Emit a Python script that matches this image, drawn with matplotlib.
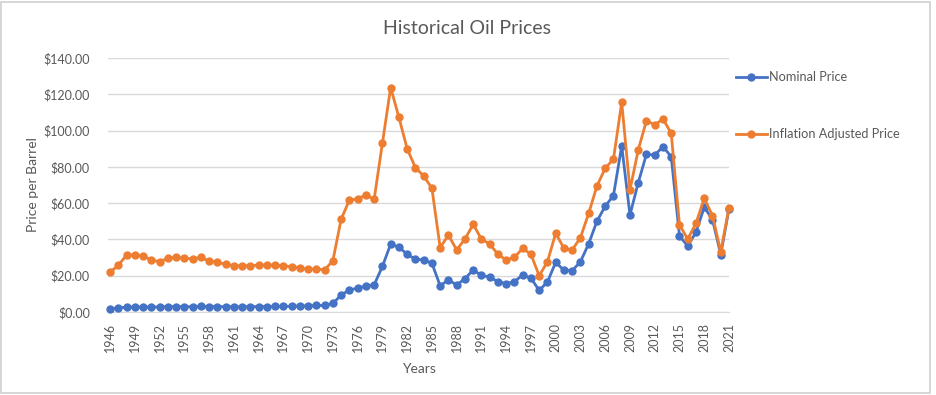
import matplotlib
matplotlib.use("Agg")
import matplotlib.pyplot as plt
from matplotlib.patches import Rectangle

years = list(range(1946, 2022))
nominal = [1.63, 2.16, 2.77, 2.77, 2.77, 2.77, 2.77, 2.92, 2.99, 2.93,
           2.94, 3.14, 3.00, 3.00, 2.91, 2.85, 2.85, 2.91, 3.00, 3.01,
           3.10, 3.12, 3.18, 3.32, 3.39, 3.60, 3.60, 4.75, 9.35, 12.21,
           13.10, 14.40, 14.95, 25.10, 37.42, 35.75, 31.83, 29.08, 28.75, 26.92,
           14.44, 17.75, 14.87, 18.33, 23.19, 20.20, 19.25, 16.75, 15.66, 16.75,
           20.46, 18.64, 11.91, 16.56, 27.39, 23.00, 22.81, 27.69, 37.66, 50.04,
           58.30, 64.20, 91.48, 53.48, 71.21, 87.04, 86.46, 91.17, 85.60, 41.85,
           36.34, 43.97, 57.77, 50.88, 31.68, 57.0]
adjusted = [22.0, 25.7, 31.4, 31.4, 30.9, 28.7, 27.7, 29.6, 30.1, 29.6,
            29.3, 30.1, 28.1, 27.4, 26.3, 25.5, 25.5, 25.5, 25.9, 25.9,
            25.9, 25.5, 25.0, 24.4, 23.5, 23.8, 23.2, 28.3, 51.1, 61.7,
            62.3, 64.5, 62.1, 93.0, 123.7, 107.3, 90.0, 79.6, 75.0, 68.2,
            35.5, 42.4, 34.2, 40.2, 48.3, 40.2, 37.5, 31.8, 28.7, 30.1,
            35.1, 31.8, 20.0, 27.7, 43.4, 35.1, 34.2, 41.0, 54.4, 69.5,
            79.2, 84.3, 115.6, 67.3, 89.3, 105.5, 103.1, 106.4, 98.5, 48.0,
            40.2, 48.9, 62.7, 53.1, 33.2, 57.5]
yticks = [0, 20, 40, 60, 80, 100, 120, 140]
xticks = list(range(1946, 2022, 3))

BLUE = "#4472C4"
ORANGE = "#ED7D31"
GRID = "#D9D9D9"
TXT = "#595959"

plt.rcParams['font.family'] = ['Lato', 'DejaVu Sans']

W, H = 936, 395
fig = plt.figure(figsize=(W / 100, H / 100), dpi=100)
fig.patches.append(Rectangle((1 / W, 2 / H), 929 / W, 391 / H, transform=fig.transFigure,
                             fill=False, edgecolor="#D0D0D0", linewidth=1.2))

ax = fig.add_axes([108 / W, 1 - 312 / H, 621 / W, 254 / H])
ax.plot(years, nominal, color=BLUE, marker='o', markersize=5, linewidth=2.0,
        label="Nominal Price", zorder=3, clip_on=False)
ax.plot(years, adjusted, color=ORANGE, marker='o', markersize=5, linewidth=2.0,
        label="Inflation Adjusted Price", zorder=4, clip_on=False)

ax.set_xlim(1945.75, 2021)
ax.set_ylim(0, 140)
ax.set_yticks(yticks)
ax.set_yticklabels([f"${v:.2f}" for v in yticks])
ax.set_xticks(xticks)
ax.set_xticklabels([str(x) for x in xticks], rotation=90)
ax.grid(axis='y', color=GRID, linewidth=1.0, zorder=0)
ax.set_axisbelow(True)
for s in ['top', 'right', 'left']:
    ax.spines[s].set_visible(False)
ax.spines['bottom'].set_color(GRID)
ax.tick_params(axis='both', length=0, colors=TXT, labelsize=9)
ax.tick_params(axis='y', pad=13)
ax.tick_params(axis='x', pad=8)

ax.set_ylabel("Price per Barrel", color=TXT, fontsize=10)
ax.yaxis.set_label_coords((39 - 108) / 621, 0.5)
ax.set_xlabel("Years", color=TXT, fontsize=10, labelpad=8)
fig.text(467 / W, 1 - 28 / H, "Historical Oil Prices", color=TXT, fontsize=14,
         ha='center', va='center')

leg = fig.legend(loc='upper left', bbox_to_anchor=(731 / W, 1 - 66 / H),
                 frameon=False, fontsize=9.2, labelspacing=3.55, handlelength=2.4,
                 handletextpad=0.2, borderaxespad=0)
for t in leg.get_texts():
    t.set_color(TXT)

fig.savefig("out.png", dpi=100)
